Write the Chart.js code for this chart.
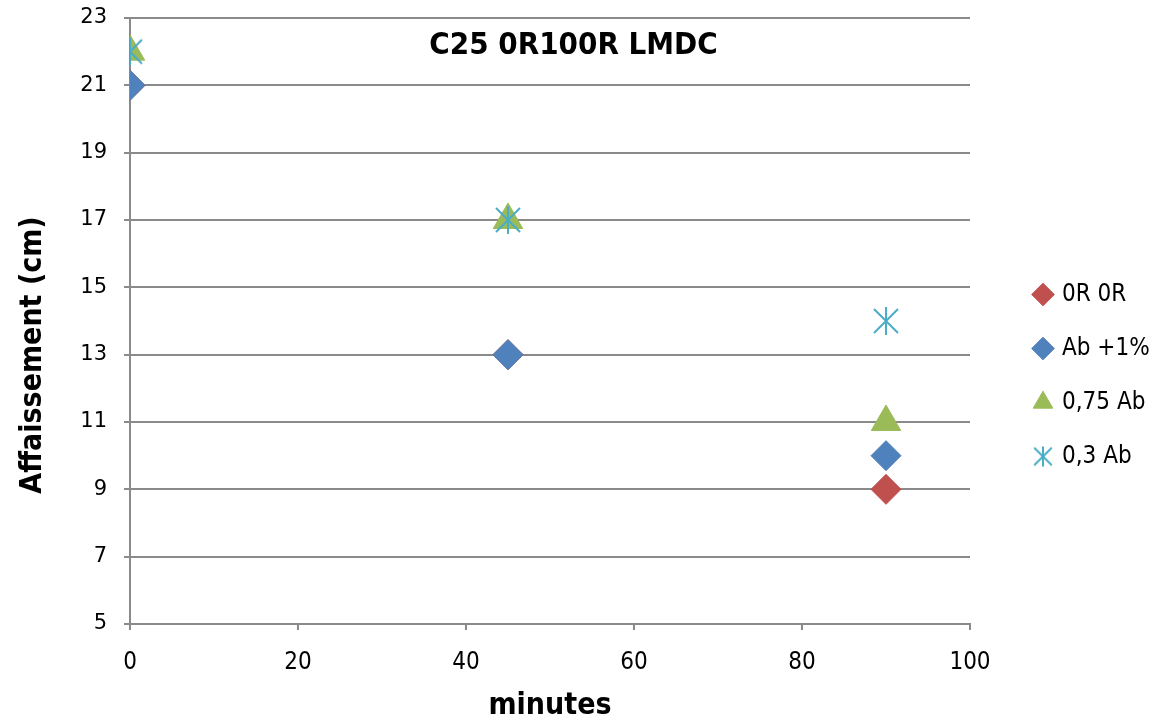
<!DOCTYPE html>
<html>
<head>
<meta charset="utf-8">
<script src="https://cdn.jsdelivr.net/npm/chart.js@4.4.1/dist/chart.umd.min.js"></script>
<style>
  html, body { margin: 0; padding: 0; background: #fff; }
  #wrap { width: 1162px; height: 721px; }
</style>
</head>
<body>
<div id="wrap"><canvas id="myChart"></canvas></div>
<script>
// slump over time for each mix
const minutes = [0, 45, 90];
const seriesNames = ["0R 0R", "Ab +1%", "0,75 Ab", "0,3 Ab"];
const slump0R0R = [21, 13, 9];
const slumpAb1 = [21, 13, 10];
const slumpAb075 = [22, 17, 11];
const slumpAb03 = [22, 17, 14];
const xTicks = [0, 20, 40, 60, 80, 100];
const yTicks = [5, 7, 9, 11, 13, 15, 17, 19, 21, 23];

const chartTitle = "C25 0R100R LMDC";
const yTitle = "Affaissement (cm)";
const narrow = "'Liberation Sans Narrow', 'DejaVu Sans Condensed', sans-serif";
const gridGray = "#8a8a8a";

// excel-like star marker: an X with a vertical bar
function starMarker(size, color) {
  const c = document.createElement("canvas");
  c.width = size;
  c.height = size;
  const g = c.getContext("2d");
  g.strokeStyle = color;
  g.lineWidth = 2;
  const m = size / 2, d = size * 0.4;
  g.beginPath();
  g.moveTo(m - d, m - d); g.lineTo(m + d, m + d);
  g.moveTo(m + d, m - d); g.lineTo(m - d, m + d);
  g.moveTo(m, 1); g.lineTo(m, size - 1);
  g.stroke();
  return c;
}
const starBig = starMarker(30, "#4bacc6");
const starSmall = starMarker(22, "#4bacc6");

const toPoints = (ys) => minutes.map((x, i) => ({ x: x, y: ys[i] }));

// chart title sits inside the plot; y title is drawn by hand so it can sit a bit lower
const extraText = {
  id: "extraText",
  afterDraw(chart) {
    const { ctx, chartArea } = chart;
    ctx.save();
    ctx.fillStyle = "#000";
    ctx.textAlign = "center";
    ctx.textBaseline = "middle";
    ctx.font = "bold 31px " + narrow;
    ctx.fillText(chartTitle, chartArea.left + chartArea.width * 0.528, 46);
    ctx.translate(33, 355);
    ctx.rotate(-Math.PI / 2);
    ctx.font = "bold 30px " + narrow;
    ctx.fillText(yTitle, 0, 0);
    ctx.restore();
  },
};

// give the legend a fixed column and push its items right
const legendPlace = {
  id: "legendPlace",
  beforeLayout(chart) {
    const lg = chart.legend;
    if (!lg || lg._placed) return;
    lg._placed = true;
    const fit = lg.fit.bind(lg);
    lg.fit = function () {
      fit();
      this.width = 192;
    };
    const draw = lg.draw.bind(lg);
    lg.draw = function () {
      this.ctx.save();
      this.ctx.translate(36, 15);
      draw();
      this.ctx.restore();
    };
  },
};

const ctx = document.getElementById("myChart");

new Chart(ctx, {
  type: "scatter",
  data: {
    datasets: [
      {
        label: seriesNames[0],
        data: toPoints(slump0R0R),
        pointStyle: "rectRot",
        pointRadius: 15,
        backgroundColor: "#c0504d",
        borderColor: "#c0504d",
        borderWidth: 1,
        order: 4,
      },
      {
        label: seriesNames[1],
        data: toPoints(slumpAb1),
        pointStyle: "rectRot",
        pointRadius: 15,
        backgroundColor: "#4f81bd",
        borderColor: "#4f81bd",
        borderWidth: 1,
        order: 3,
      },
      {
        label: seriesNames[2],
        data: toPoints(slumpAb075),
        pointStyle: "triangle",
        pointRadius: 17,
        backgroundColor: "#9bbb59",
        borderColor: "#9bbb59",
        borderWidth: 1,
        order: 2,
      },
      {
        label: seriesNames[3],
        data: toPoints(slumpAb03),
        pointStyle: starBig,
        backgroundColor: "#4bacc6",
        borderColor: "#4bacc6",
        order: 1,
      },
    ],
  },
  options: {
    responsive: true,
    maintainAspectRatio: false,
    animation: false,
    layout: {
      padding: 0,
    },
    scales: {
      x: {
        type: "linear",
        min: xTicks[0],
        max: xTicks[xTicks.length - 1],
        afterFit: (scale) => { scale.height = 97; },
        ticks: {
          stepSize: xTicks[1] - xTicks[0],
          color: "#000",
          font: { family: narrow, size: 24 },
          padding: 18,
        },
        grid: { drawOnChartArea: false, drawTicks: true, tickLength: 6, color: gridGray, lineWidth: 2 },
        border: { color: gridGray, width: 2 },
        title: {
          display: true,
          text: "minutes",
          color: "#000",
          font: { family: narrow, size: 30, weight: "bold" },
          padding: { top: 0, bottom: -3 },
        },
      },
      y: {
        min: yTicks[0],
        max: yTicks[yTicks.length - 1],
        afterFit: (scale) => {
          scale.width = 130;
          scale.paddingTop = 18;
          scale.paddingBottom = 0;
        },
        ticks: {
          stepSize: yTicks[1] - yTicks[0],
          color: "#000",
          font: { family: "'DejaVu Sans', sans-serif", size: 21 },
          padding: 17,
        },
        grid: { color: gridGray, lineWidth: 2, tickLength: 6 },
        border: { color: gridGray, width: 2 },
      },
    },
    plugins: {
      legend: {
        position: "right",
        labels: {
          usePointStyle: true,
          boxWidth: 14,
          boxHeight: 16,
          padding: 30,
          color: "#000",
          font: { family: narrow, size: 24 },
          sort: (a, b) => a.datasetIndex - b.datasetIndex,
          generateLabels(chart) {
            const items = Chart.defaults.plugins.legend.labels.generateLabels(chart);
            items.forEach((it) => {
              if (it.datasetIndex === 3) it.pointStyle = starSmall;
            });
            return items;
          },
        },
      },
      tooltip: { enabled: false },
    },
  },
  plugins: [extraText, legendPlace],
});
</script>
</body>
</html>
